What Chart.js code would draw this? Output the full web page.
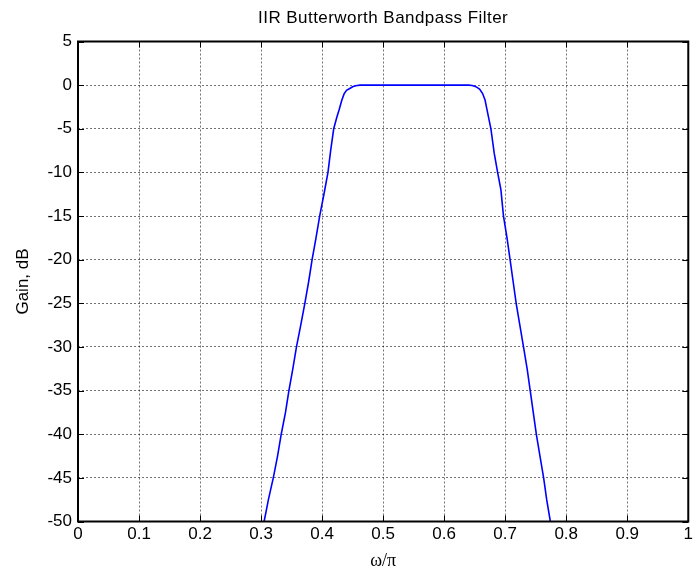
<!DOCTYPE html>
<html>
<head>
<meta charset="utf-8">
<script src="https://cdn.jsdelivr.net/npm/chart.js@4.4.1/dist/chart.umd.min.js"></script>
<style>
  html, body { margin: 0; padding: 0; background: #fff; }
  #wrap { width: 696px; height: 570px; }
</style>
</head>
<body>
<div id="wrap"><canvas id="bandpass"></canvas></div>
<script>
// normalised frequency (omega/pi) and gain in dB of the bandpass response
const omega = [
    0.305, 0.312, 0.320, 0.327, 0.333, 0.340, 0.3456, 0.352, 0.358, 0.365,
    0.3717, 0.378, 0.3836, 0.390, 0.396, 0.403, 0.4096, 0.414, 0.419, 0.424,
    0.428, 0.432, 0.436, 0.440, 0.446, 0.450, 0.455, 0.462, 0.550, 0.640,
    0.646, 0.652, 0.658, 0.663, 0.667, 0.671, 0.6766, 0.682, 0.6876, 0.693,
    0.6972, 0.703, 0.708, 0.713, 0.718, 0.724, 0.730, 0.736, 0.741, 0.746,
    0.751, 0.757, 0.763, 0.768, 0.774
];
const gainDb = [
    -50, -47.5, -45, -42.5, -40, -37.5, -35, -32.5, -30, -27.5,
    -25, -22.5, -20, -17.5, -15, -12.5, -10, -7.5, -5, -3.7,
    -2.8, -1.8, -1.0, -0.6, -0.35, -0.18, -0.06, 0, 0, 0,
    -0.05, -0.17, -0.45, -0.96, -1.7, -3.1, -5, -7.8, -10, -12,
    -15, -17.5, -20, -22.5, -25, -27.5, -30, -32.5, -35, -37.5,
    -40, -42.5, -45, -47.5, -50
];

const xTickValues = [0, 0.1, 0.2, 0.3, 0.4, 0.5, 0.6, 0.7, 0.8, 0.9, 1];
const yTickValues = [-50, -45, -40, -35, -30, -25, -20, -15, -10, -5, 0, 5];
const chartTitle = 'IIR Butterworth Bandpass Filter';

const sans = "'Liberation Sans', Arial, Helvetica, sans-serif";

// axes box with inward tick marks on all four sides, title centred over the axes
const boxTicks = {
    id: 'boxTicks',
    afterDatasetsDraw(chart) {
        const { ctx, chartArea: a, scales } = chart;
        const len = 6;
        ctx.save();
        ctx.strokeStyle = '#000';
        ctx.lineWidth = 1;
        ctx.beginPath();
        xTickValues.forEach((v) => {
            const px = Math.round(scales.x.getPixelForValue(v)) + 0.5;
            ctx.moveTo(px, a.bottom); ctx.lineTo(px, a.bottom - len);
            ctx.moveTo(px, a.top); ctx.lineTo(px, a.top + len);
        });
        yTickValues.forEach((v) => {
            const py = Math.round(scales.y.getPixelForValue(v)) + 0.5;
            ctx.moveTo(a.left, py); ctx.lineTo(a.left + len, py);
            ctx.moveTo(a.right, py); ctx.lineTo(a.right - len, py);
        });
        ctx.stroke();
        ctx.lineWidth = 2;
        ctx.strokeRect(a.left, a.top, a.right - a.left, a.bottom - a.top);

        ctx.fillStyle = '#000';
        ctx.font = '17px ' + sans;
        ctx.letterSpacing = '0.45px';
        ctx.textAlign = 'center';
        ctx.textBaseline = 'middle';
        ctx.fillText(chartTitle, (a.left + a.right) / 2, 18);
        ctx.restore();
    }
};

const ctx = document.getElementById('bandpass').getContext('2d');
const chart = new Chart(ctx, {
    type: 'line',
    data: {
        datasets: [
            {
                label: 'Gain',
                data: omega.map((w, i) => ({ x: w, y: gainDb[i] })),
                borderColor: '#0000ff',
                borderWidth: 1.6,
                pointRadius: 0,
                tension: 0,
                fill: false,
            },
        ],
    },
    options: {
        responsive: true,
        maintainAspectRatio: false,
        animation: false,
        layout: {
            padding: { left: 0, right: 7, top: 41.5, bottom: 0 },
        },
        plugins: {
            legend: { display: false },
            tooltip: { enabled: false },
            title: { display: false },
        },
        scales: {
            x: {
                type: 'linear',
                min: 0,
                max: 1,
                afterBuildTicks: (scale) => {
                    scale.ticks = xTickValues.map((v) => ({ value: v }));
                },
                afterFit: (scale) => { scale.height = 48.5; },
                grid: { color: 'rgba(0,0,0,0.55)', lineWidth: 1, drawTicks: false },
                border: { display: false, dash: [2, 2] },
                ticks: {
                    color: '#000',
                    padding: 3,
                    maxRotation: 0,
                    font: { family: sans, size: 17 },
                    callback: (v) => String(v),
                },
                title: {
                    display: true,
                    text: 'ω/π',
                    color: '#000',
                    font: { family: "'Liberation Serif', 'Times New Roman', serif", size: 18, lineHeight: 1 },
                    padding: { top: 0, bottom: 0 },
                },
            },
            y: {
                type: 'linear',
                min: -50,
                max: 5,
                afterBuildTicks: (scale) => {
                    scale.ticks = yTickValues.map((v) => ({ value: v }));
                },
                afterFit: (scale) => { scale.width = 78; },
                grid: { color: 'rgba(0,0,0,0.55)', lineWidth: 1, drawTicks: false },
                border: { display: false, dash: [2, 2] },
                ticks: {
                    color: '#000',
                    padding: 6,
                    font: { family: sans, size: 17 },
                },
                title: {
                    display: true,
                    text: 'Gain, dB',
                    color: '#000',
                    font: { family: sans, size: 17, lineHeight: 1.2 },
                    padding: { top: 13, bottom: 0 },
                },
            },
        },
    },
    plugins: [boxTicks],
});
</script>
</body>
</html>
